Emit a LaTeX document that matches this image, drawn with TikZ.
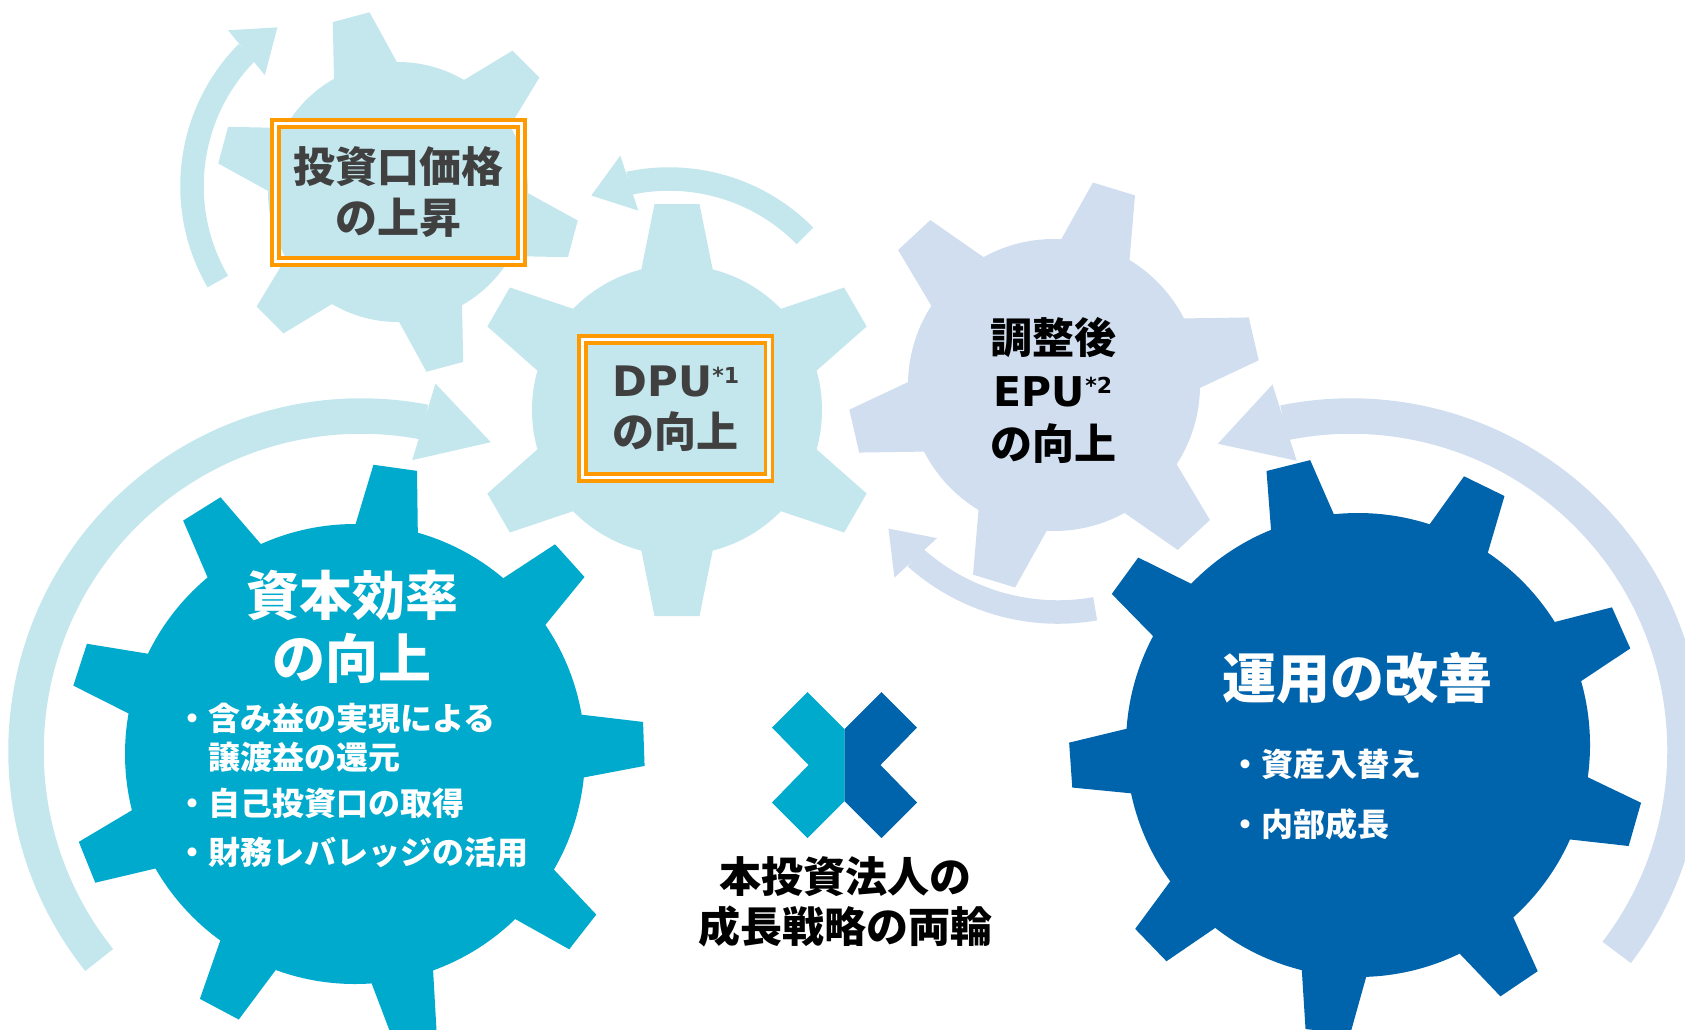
\documentclass[tikz,border=0pt]{standalone}
\usepackage{fontspec}
\setmainfont{Noto Sans CJK JP}
\newfontfamily\latinfont{DejaVu Sans}
\usetikzlibrary{arrows.meta, bending, positioning}

\definecolor{gearsky}{RGB}{196,231,238}
\definecolor{gearmist}{RGB}{208,222,239}
\definecolor{gearteal}{RGB}{0,170,204}
\definecolor{gearnavy}{RGB}{0,100,172}
\definecolor{frameorange}{RGB}{255,153,0}
\definecolor{labelgray}{RGB}{64,64,64}

% small raised note mark after DPU / EPU
\newcommand\supnote[1]{\raisebox{13pt}{\fontsize{22}{22}\selectfont\latinfont\bfseries #1}}

\tikzset{
  % gear: teeth, first tooth angle, body radius, tip radius, half width at root, half width at tip
  pics/gear/.style n args={6}{code={
    \fill circle (#3);
    \foreach \k in {1,...,#1}
      \fill[rotate={#2+360*(\k-1)/#1}] (#3-6,-#5) -- (#4,-#6) -- (#4,#6) -- (#3-6,#5) -- cycle;
  }},
  turn/.style={line width=23.5pt, -{Triangle[width=58pt, length=40pt, line width=0pt, flex]}},
  bigturn/.style={line width=35.5pt, -{Triangle[width=80pt, length=70pt, line width=0pt, flex]}},
  gearlabel/.style={align=center, inner sep=0pt, font=\bfseries\fontsize{42}{51}\selectfont},
  doubleframe/.style={draw=frameorange, line width=3.6pt, double=white, double distance=3.3pt},
  listtext/.style={align=left, inner sep=0pt, text=white},
}

\begin{document}
\begin{tikzpicture}[x=1pt, y=1pt]
  \useasboundingbox (0,0) rectangle (1685,-1029);
  \clip (0,0) rectangle (1685,-1029);

  % Gear centres
  \coordinate (gprice) at (398,-192);
  \coordinate (gdpu) at (677,-410);
  \coordinate (gepu) at (1054,-385);
  \coordinate (gcap) at (355,-754);
  \coordinate (gops) at (1358,-745);

  % Centres of the turning arrows
  \coordinate (rprice) at (382,-186);
  \coordinate (rdpu) at (669,-370);
  \coordinate (repu) at (1058,-398);
  \coordinate (rcap) at (361,-751);
  \coordinate (rops) at (1351,-750);

  % Turning arrows
  \draw[turn, gearsky] ([shift={(210.2:190)}]rprice) arc[start angle=210.2, end angle=123.4, radius=190];
  \draw[turn, gearsky] ([shift={(44.6:191)}]rdpu) arc[start angle=44.6, end angle=114, radius=191];
  \draw[turn, gearmist] ([shift={(280:214)}]repu) arc[start angle=280, end angle=217.6, radius=214];
  \draw[bigturn, gearsky] ([shift={(218.6:335)}]rcap) arc[start angle=218.6, end angle=67.2, radius=335];
  \draw[bigturn, gearmist] ([shift={(-37.3:334)}]rops) arc[start angle=-37.3, end angle=113.5, radius=334];

  % Gears
  \pic[gearsky] at (gprice) {gear={6}{45}{130}{181}{33}{19}};
  \pic[gearsky] at (gdpu) {gear={6}{30}{145}{206}{36}{22.5}};
  \pic[gearmist] at (gepu) {gear={6}{13}{146}{205}{36}{22}};
  \pic[gearteal] at (gcap) {gear={9}{2}{230}{289}{32}{22}};
  \pic[gearnavy] at (gops) {gear={9}{24}{232}{288}{33}{22.5}};

  % Labels on the light gears
  \node[gearlabel, text=labelgray, doubleframe, minimum width=246pt, minimum height=138pt] (price) at (398.3,-192.5) {投資口価格\\の上昇};
  \node[gearlabel, text=labelgray, doubleframe, minimum width=186.5pt, minimum height=138pt] (dpu) at (675.8,-408.3) {{\latinfont\bfseries\fontsize{42}{51}\selectfont DPU}\supnote{*1}\\の向上};
  \node[gearlabel, text=black, font=\bfseries\fontsize{42}{53}\selectfont] (epu) at (1053,-390) {調整後\\{\latinfont\bfseries\fontsize{41}{53}\selectfont EPU}\supnote{*2}\\の向上};

  % Labels on the dark gears
  \node[gearlabel, text=white, font=\bfseries\fontsize{53}{63}\selectfont] (cap) at (352,-627) {資本効率\\の向上};
  \node[listtext, anchor=west, font=\bfseries\fontsize{32}{39}\selectfont] (capitems) at (176,-785)
    {・含み益の実現による\\\hphantom{・}譲渡益の還元\\[7pt]・自己投資口の取得\\[10pt]・財務レバレッジの活用};
  \node[gearlabel, text=white, font=\bfseries\fontsize{54}{60}\selectfont] (ops) at (1357,-678) {運用の改善};
  \node[listtext, anchor=west, font=\bfseries\fontsize{32}{60}\selectfont] (opsitems) at (1229,-795)
    {・資産入替え\\・内部成長};

  % Cross mark and caption
  \coordinate (logo) at (844.5,-765);
  \fill[gearteal, shift={(logo)}] (0,36) -- (-37,73) -- (-72.5,37.5) -- (-36,0) -- (-72.5,-37.5) -- (-37,-73) -- (0,-36) -- cycle;
  \fill[gearnavy, shift={(logo)}] (0,36) -- (37,73) -- (72.5,37.5) -- (36,0) -- (72.5,-37.5) -- (37,-73) -- (0,-36) -- cycle;
  \node[gearlabel, text=black, font=\bfseries\fontsize{42}{50}\selectfont] (caption) at (845,-902) {本投資法人の\\成長戦略の両輪};
\end{tikzpicture}
\end{document}
